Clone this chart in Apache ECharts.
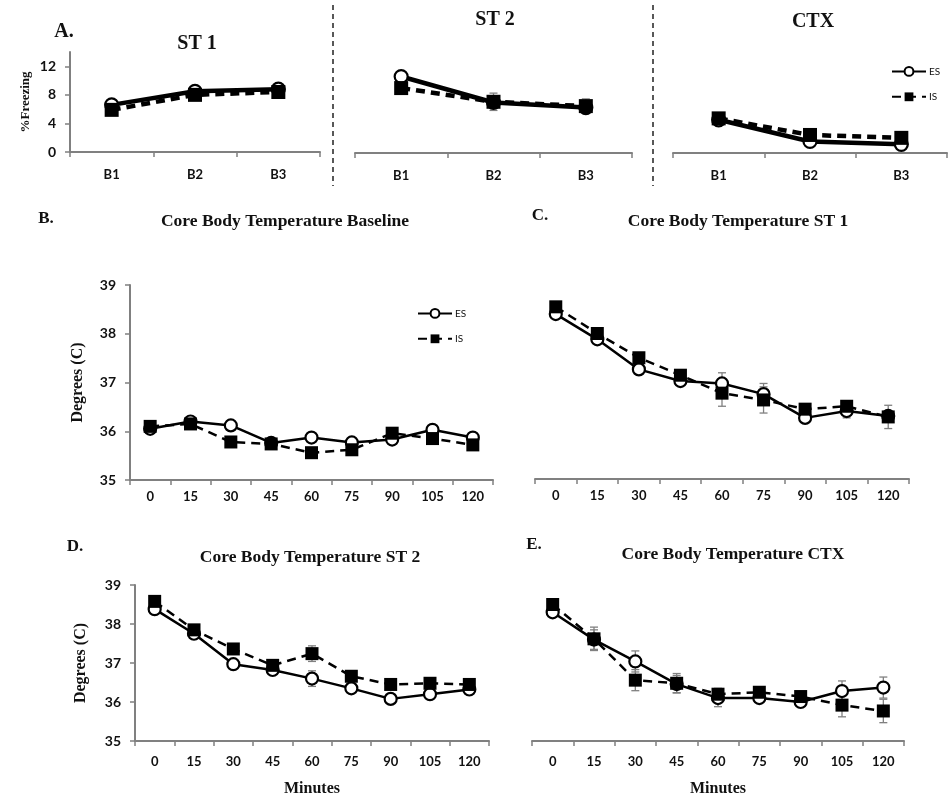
<!DOCTYPE html>
<html>
<head>
<meta charset="utf-8">
<script src="https://cdn.jsdelivr.net/npm/echarts@6/dist/echarts.min.js"></script>
<style>
  html, body { margin: 0; padding: 0; background: #fff; }
  #main { width: 948px; height: 800px; }
</style>
</head>
<body>
<div id="main"></div>
<script>
// categories
const blocks = ['B1', 'B2', 'B3'];
const minutes = ['0', '15', '30', '45', '60', '75', '90', '105', '120'];

// A. % freezing
const st1ES = [6.6, 8.5, 8.8];
const st1IS = [5.9, 8.0, 8.4];
const st1ESErr = [0.4, 0.4, 0.4];
const st1ISErr = [0.4, 0.4, 0.4];
const st2ES = [10.6, 7.0, 6.3];
const st2IS = [9.0, 7.1, 6.5];
const st2ESErr = [0.4, 0.8, 0.8];
const st2ISErr = [0.4, 1.2, 1.0];
const ctxES = [4.6, 1.6, 1.2];
const ctxIS = [4.8, 2.5, 2.1];
const ctxESErr = [0.6, 0.4, 0.6];
const ctxISErr = [0.5, 0.5, 0.6];

// B. baseline
const baseES = [36.05, 36.2, 36.12, 35.76, 35.87, 35.77, 35.83, 36.03, 35.87];
const baseIS = [36.1, 36.15, 35.78, 35.74, 35.56, 35.62, 35.96, 35.85, 35.72];
const baseESErr = [0.05, 0.05, 0.05, 0.05, 0.05, 0.05, 0.05, 0.05, 0.05];
const baseISErr = [0.05, 0.05, 0.05, 0.05, 0.05, 0.05, 0.05, 0.05, 0.05];

// C. ST 1
const t1ES = [38.4, 37.88, 37.26, 37.02, 36.97, 36.75, 36.26, 36.4, 36.3];
const t1IS = [38.55, 38.0, 37.5, 37.14, 36.77, 36.63, 36.44, 36.5, 36.28];
const t1ESErr = [0.05, 0.08, 0.06, 0.08, 0.22, 0.22, 0.06, 0.14, 0.1];
const t1ISErr = [0.06, 0.08, 0.08, 0.08, 0.27, 0.27, 0.08, 0.08, 0.24];

// D. ST 2
const t2ES = [38.38, 37.75, 36.97, 36.82, 36.6, 36.35, 36.08, 36.2, 36.32];
const t2IS = [38.58, 37.85, 37.36, 36.94, 37.24, 36.66, 36.45, 36.48, 36.45];
const t2ESErr = [0.06, 0.08, 0.08, 0.08, 0.2, 0.1, 0.08, 0.08, 0.08];
const t2ISErr = [0.06, 0.1, 0.1, 0.08, 0.2, 0.1, 0.1, 0.08, 0.08];

// E. CTX
const tcES = [38.3, 37.6, 37.04, 36.46, 36.1, 36.1, 36.0, 36.28, 36.37];
const tcIS = [38.5, 37.62, 36.56, 36.48, 36.2, 36.25, 36.14, 35.92, 35.77];
const tcESErr = [0.05, 0.25, 0.27, 0.22, 0.22, 0.08, 0.1, 0.26, 0.27];
const tcISErr = [0.05, 0.3, 0.27, 0.25, 0.15, 0.1, 0.1, 0.3, 0.3];

const chart = echarts.init(document.getElementById('main'));

const tickFont = { fontFamily: 'Lato', fontWeight: 'bold', fontSize: 13, color: '#111' };
const axisLine = { show: true, lineStyle: { color: '#808080', width: 2 } };
const axisTick = { show: true, length: 5, lineStyle: { color: '#808080', width: 1.5 } };

const grids = [
  { left: 70, top: 52, width: 250, height: 100 },
  { left: 355, top: 52, width: 277, height: 101 },
  { left: 673, top: 52, width: 274, height: 101 },
  { left: 130, top: 285, width: 363, height: 195 },
  { left: 535, top: 285, width: 374, height: 194 },
  { left: 135, top: 585, width: 354, height: 156 },
  { left: 532, top: 585, width: 372, height: 156 }
];

function xAxisFor(i, cats, margin, name) {
  return {
    type: 'category', gridIndex: i, data: cats, boundaryGap: true,
    axisLine: axisLine, axisTick: axisTick,
    axisLabel: Object.assign({ margin: margin, interval: 0 }, tickFont),
    name: name || '', nameLocation: 'middle', nameGap: 40,
    nameTextStyle: { fontFamily: 'Liberation Serif', fontWeight: 'bold', fontSize: 16, color: '#111' }
  };
}

function yAxisFor(i, min, max, interval, show, name, gap) {
  return {
    type: 'value', gridIndex: i, min: min, max: max, interval: interval, show: show,
    splitLine: { show: false },
    axisLine: axisLine, axisTick: axisTick,
    axisLabel: Object.assign({ margin: 14, showMaxLabel: max % interval === 0 }, tickFont, { fontSize: 14 }),
    name: name || '', nameLocation: 'middle', nameRotate: 90, nameGap: gap || 40,
    nameTextStyle: { fontFamily: 'Liberation Serif', fontWeight: 'bold', fontSize: name === '%Freezing' ? 13 : 16, color: '#111' }
  };
}

function errSeries(i, vals, errs) {
  return {
    type: 'custom', xAxisIndex: i, yAxisIndex: i, z: 1, silent: true,
    data: vals.map((v, k) => [k, v, errs[k]]),
    encode: { x: 0, y: 1 },
    renderItem: function (params, api) {
      const x = api.value(0), v = api.value(1), e = api.value(2);
      const top = api.coord([x, v + e]);
      const bot = api.coord([x, v - e]);
      const hw = 4;
      const st = { stroke: '#808080', lineWidth: 1.3 };
      return {
        type: 'group',
        children: [
          { type: 'line', shape: { x1: top[0], y1: top[1], x2: bot[0], y2: bot[1] }, style: st },
          { type: 'line', shape: { x1: top[0] - hw, y1: top[1], x2: top[0] + hw, y2: top[1] }, style: st },
          { type: 'line', shape: { x1: bot[0] - hw, y1: bot[1], x2: bot[0] + hw, y2: bot[1] }, style: st }
        ]
      };
    }
  };
}

function lineSeries(i, name, vals, big) {
  const isES = name === 'ES';
  return {
    type: 'line', name: name, xAxisIndex: i, yAxisIndex: i, data: vals,
    z: isES ? 3 : 4,
    symbol: isES ? 'circle' : 'rect',
    symbolSize: big ? (isES ? 13 : 14) : (isES ? 12 : 13),
    showAllSymbol: true,
    lineStyle: { color: '#000', width: big ? 4.5 : 2.5, type: isES ? 'solid' : [9, 6] },
    itemStyle: isES ? { color: '#fff', borderColor: '#000', borderWidth: 2.2 } : { color: '#000', borderColor: '#000', borderWidth: 0 },
    emphasis: { disabled: true },
    animation: false
  };
}

const panels = [
  { cats: blocks, es: st1ES, is: st1IS, ee: st1ESErr, ie: st1ISErr, big: true },
  { cats: blocks, es: st2ES, is: st2IS, ee: st2ESErr, ie: st2ISErr, big: true },
  { cats: blocks, es: ctxES, is: ctxIS, ee: ctxESErr, ie: ctxISErr, big: true },
  { cats: minutes, es: baseES, is: baseIS, ee: baseESErr, ie: baseISErr },
  { cats: minutes, es: t1ES, is: t1IS, ee: t1ESErr, ie: t1ISErr },
  { cats: minutes, es: t2ES, is: t2IS, ee: t2ESErr, ie: t2ISErr },
  { cats: minutes, es: tcES, is: tcIS, ee: tcESErr, ie: tcISErr }
];

const xAxes = [
  xAxisFor(0, blocks, 16), xAxisFor(1, blocks, 16), xAxisFor(2, blocks, 16),
  xAxisFor(3, minutes, 10), xAxisFor(4, minutes, 10),
  xAxisFor(5, minutes, 14, 'Minutes'), xAxisFor(6, minutes, 14, 'Minutes')
];
const yAxes = [
  yAxisFor(0, 0, 14, 4, true, '%Freezing', 38),
  yAxisFor(1, 0, 14, 4, false), yAxisFor(2, 0, 14, 4, false),
  yAxisFor(3, 35, 39, 1, true, 'Degrees (C)', 44),
  yAxisFor(4, 35, 39, 1, false),
  yAxisFor(5, 35, 39, 1, true, 'Degrees (C)', 46),
  yAxisFor(6, 35, 39, 1, false)
];

const series = [];
panels.forEach((p, i) => {
  series.push(errSeries(i, p.es, p.ee));
  series.push(errSeries(i, p.is, p.ie));
  series.push(lineSeries(i, 'ES', p.es, p.big));
  series.push(lineSeries(i, 'IS', p.is, p.big));
});

function txt(x, y, s, size, align) {
  return {
    type: 'text', x: x, y: y, silent: true,
    style: {
      text: s, fill: '#111', font: 'bold ' + size + 'px "Liberation Serif"',
      textAlign: align || 'center', textVerticalAlign: 'middle'
    }
  };
}

const legendText = { fontFamily: 'Lato', fontSize: 10, color: '#111', padding: [0, 0, 0, -2] };

chart.setOption({
  animation: false,
  backgroundColor: '#fff',
  grid: grids,
  xAxis: xAxes,
  yAxis: yAxes,
  legend: [
    { data: ['ES', 'IS'], orient: 'vertical', left: 886, top: 61, itemWidth: 34, itemHeight: 11, itemGap: 15, textStyle: legendText, selectedMode: false },
    { data: ['ES', 'IS'], orient: 'vertical', left: 412, top: 303, itemWidth: 34, itemHeight: 11, itemGap: 15, textStyle: legendText, selectedMode: false }
  ],
  series: series,
  graphic: [
    txt(64, 32, 'A.', 20),
    txt(197, 44, 'ST 1', 20),
    txt(495, 20, 'ST 2', 20),
    txt(813, 22, 'CTX', 20),
    txt(46, 219, 'B.', 17),
    txt(285, 221, 'Core Body Temperature Baseline', 17.5),
    txt(540, 216, 'C.', 17),
    txt(738, 221, 'Core Body Temperature ST 1', 17.5),
    txt(75, 547, 'D.', 17),
    txt(310, 557, 'Core Body Temperature ST 2', 17.5),
    txt(534, 545, 'E.', 17),
    txt(733, 554, 'Core Body Temperature CTX', 17.5),
    { type: 'line', silent: true, shape: { x1: 333, y1: 5, x2: 333, y2: 186 }, style: { stroke: '#222', lineWidth: 1.5, lineDash: [5, 4] } },
    { type: 'line', silent: true, shape: { x1: 653, y1: 5, x2: 653, y2: 186 }, style: { stroke: '#222', lineWidth: 1.5, lineDash: [5, 4] } }
  ]
});
</script>
</body>
</html>
